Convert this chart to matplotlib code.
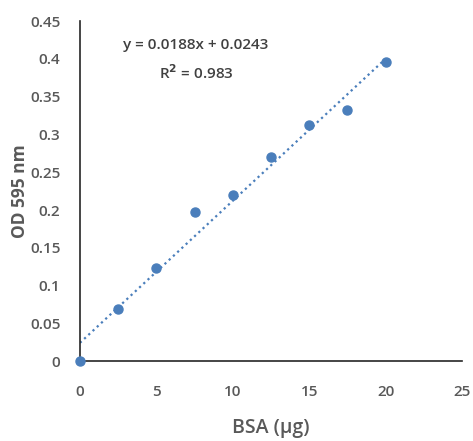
import matplotlib
matplotlib.use("Agg")
import matplotlib.pyplot as plt
import numpy as np

# BSA standard curve
bsa_ug = [0, 2.5, 5, 7.5, 10, 12.5, 15, 17.5, 20]
od595 = [0.0, 0.069, 0.123, 0.198, 0.220, 0.270, 0.312, 0.333, 0.396]
slope = 0.0188
intercept = 0.0243
x_ticks = [0, 5, 10, 15, 20, 25]
y_ticks = [0, 0.05, 0.1, 0.15, 0.2, 0.25, 0.3, 0.35, 0.4, 0.45]

plt.rcParams['font.family'] = ['Open Sans', 'DejaVu Sans']
grey = '#595959'
blue = '#4a7ebb'

fig = plt.figure(figsize=(4.73, 4.41), dpi=100)
ax = fig.add_axes([0.169, 0.181, 0.808, 0.771])

# trendline over the data range
xs = np.array([bsa_ug[0], bsa_ug[-1]])
ax.plot(xs, slope * xs + intercept, linestyle=(0, (1, 1.6)), color=blue, linewidth=1.6)
ax.plot(bsa_ug, od595, 'o', color=blue, markersize=6.5, clip_on=False, zorder=3)

ax.text(7.6, 0.418, 'y = 0.0188x + 0.0243', ha='center', va='center', fontsize=11,
        color='#404040', fontweight='semibold')
ax.text(7.6, 0.382, 'R$^\\mathbf{2}$ = 0.983', ha='center', va='center', fontsize=11,
        color='#404040', fontweight='semibold')

ax.set_xlim(0, 25)
ax.set_ylim(0, 0.45)
ax.set_xticks(x_ticks)
ax.set_yticks(y_ticks)
ax.set_xticklabels([str(v) for v in x_ticks])
ax.set_yticklabels(['0', '0.05', '0.1', '0.15', '0.2', '0.25', '0.3', '0.35', '0.4', '0.45'])
ax.tick_params(length=0, labelsize=11, colors=grey)
ax.tick_params(axis='x', pad=17)
ax.tick_params(axis='y', pad=14)
for lab in ax.get_xticklabels() + ax.get_yticklabels():
    lab.set_fontweight('semibold')

for s in ['top', 'right']:
    ax.spines[s].set_visible(False)
for s in ['left', 'bottom']:
    ax.spines[s].set_color('#262626')
    ax.spines[s].set_linewidth(1.2)

ax.set_xlabel('BSA (µg)', fontsize=14, color=grey, fontweight='semibold', labelpad=14)
ax.set_ylabel('OD 595 nm', fontsize=12.5, color=grey, fontweight='bold', labelpad=1)

fig.savefig('out.png', dpi=100)
